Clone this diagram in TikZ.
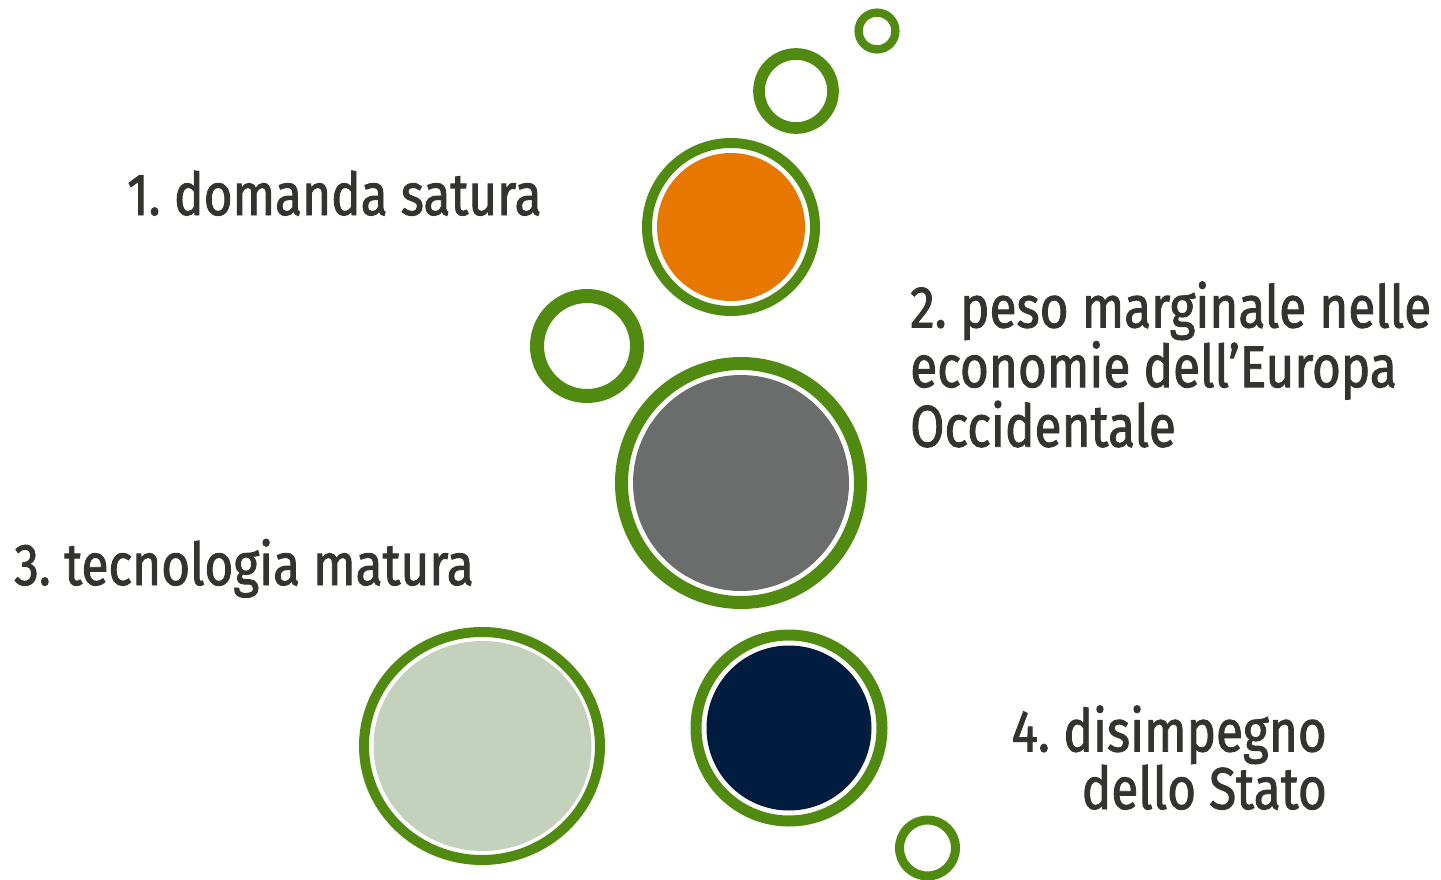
\documentclass[tikz,border=0pt]{standalone}
\usepackage{fontspec}
\setmainfont{Fira Sans}[FakeStretch=0.84,FakeBold=1.5]
\usetikzlibrary{shapes.geometric}
\definecolor{ringgreen}{RGB}{80,138,16}
\definecolor{dorange}{RGB}{232,119,0}
\definecolor{dgray}{RGB}{107,108,108}
\definecolor{lgreen}{RGB}{196,209,188}
\definecolor{dnavy}{RGB}{0,28,63}
\definecolor{txt}{RGB}{51,51,48}
\begin{document}
\begin{tikzpicture}[x=1pt,y=-1pt,
  ring/.style={circle,draw=ringgreen,inner sep=0pt},
  disc/.style={circle,inner sep=0pt,draw=none},
  lbl/.style={text=txt,inner sep=0pt,font=\fontsize{59}{57.5}\selectfont}]
\useasboundingbox (0,0) rectangle (1441,880);
% small rings
\node[ring,line width=8.3pt,minimum size=36.8pt] (r1) at (877,31) {};
\node[ring,line width=11.7pt,minimum size=74pt] (r2) at (796,91) {};
\node[ring,line width=14pt,minimum size=100pt] (r3) at (587,346) {};
\node[ring,line width=9pt,minimum size=56pt] (r4) at (927.5,848) {};
% orange
\node[ring,line width=10pt,minimum size=168pt] (c1r) at (731,227) {};
\node[disc,fill=dorange,minimum size=148pt] (c1) at (731,227) {};
% gray
\node[ring,line width=13pt,minimum size=239pt] (c2r) at (741,483) {};
\node[disc,fill=dgray,minimum size=216pt] (c2) at (741,483) {};
% light green
\node[ellipse,draw=ringgreen,inner sep=0pt,line width=10pt,minimum width=236pt,minimum height=228pt] (c3r) at (482,746) {};
\node[ellipse,draw=none,inner sep=0pt,fill=lgreen,minimum width=218pt,minimum height=210pt] (c3) at (482.5,746) {};
% navy
\node[ring,line width=11pt,minimum size=186pt] (c4r) at (789,728) {};
\node[disc,fill=dnavy,minimum size=165pt] (c4) at (789,728) {};
% labels
\node[lbl,anchor=base west] (t1) at (127,215) {1.\kern-4pt{} domanda satura};
\node[lbl,anchor=base west,align=left] (t2) at (910,446.7) {2.\kern-4pt{} peso marginale nelle\\economie dell’Europa\\Occidentale};
\node[lbl,anchor=base west] (t3) at (14,585) {3.\kern-4pt{} tecnologia matura};
\node[lbl,anchor=base east,align=right] (t4) at (1327,809) {4.\kern-4pt{} disimpegno\\dello Stato};
\end{tikzpicture}
\end{document}
